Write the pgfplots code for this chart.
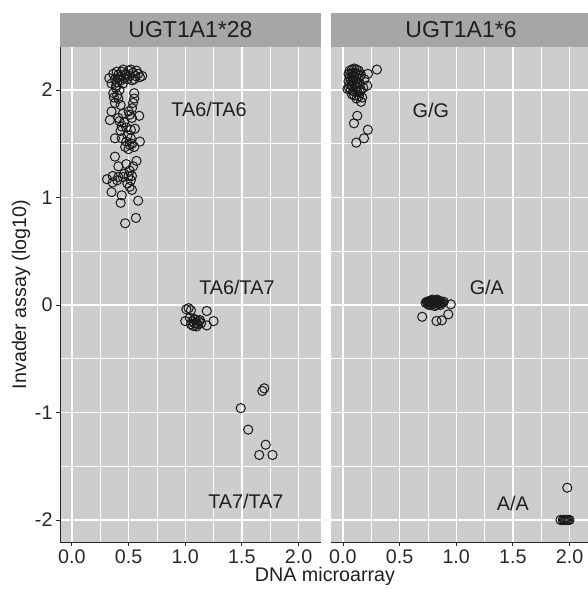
\documentclass[border=0pt]{standalone}
\usepackage{fontspec}
\setmainfont{Liberation Sans}
\usepackage{pgfplots}
\pgfplotsset{compat=1.18}
\definecolor{panelgray}{RGB}{205,205,205}
\definecolor{stripgray}{RGB}{166,166,166}
\definecolor{axiscol}{RGB}{40,40,40}
\tikzset{ann/.style={font=\fontsize{19.8}{23}\selectfont, text=black!88}}
\pgfplotsset{
  panel/.style={
    scale only axis, height=495pt,
    xmin=-0.105, ymin=-2.205, ymax=2.40,
    axis background/.style={fill=panelgray},
    axis line style={draw=none},
    grid=both,
    major grid style={white, line width=1.3pt},
    minor grid style={white, line width=0.6pt},
    xtick={0,0.5,1,1.5,2}, minor xtick={0.25,0.75,1.25,1.75,2.25},
    ytick={-2,-1,0,1,2}, minor ytick={-1.5,-0.5,0.5,1.5},
    xticklabels={0.0,0.5,1.0,1.5,2.0},
    tick align=outside, xtick pos=bottom, ytick pos=left,
    major tick length=4pt, minor tick length=0pt,
    tick style={axiscol, line width=0.8pt},
    ticklabel style={font=\fontsize{19.7}{23}\selectfont, text=axiscol},
    clip=false,
  },
  pts/.style={only marks, mark=o, mark size=4.6pt, mark options={line width=1.0pt, black!90}},
}
\begin{document}
\begin{tikzpicture}[x=1pt,y=1pt]
\path[use as bounding box] (0,0) rectangle (588,589);
% strips
\fill[stripgray] (60,542) rectangle (321,576);
\fill[stripgray] (331,542) rectangle (588,576);
\node[anchor=base, font=\fontsize{23}{27}\selectfont, text=black!88] at (190.5,551) {UGT1A1*28};
\node[anchor=base, font=\fontsize{23}{27}\selectfont, text=black!88] at (461,551) {UGT1A1*6};
% left panel
\begin{axis}[panel, width=261pt, xmax=2.198, at={(60pt,47pt)}, anchor=south west,
  yticklabels={-2,-1,0,1,2}]
\draw[axiscol, line width=0.9pt] (rel axis cs:0,1) -- (rel axis cs:0,0) -- (rel axis cs:1,0);
\addplot[pts] table {
x y
0.33 2.11
0.365 2.15
0.395 2.17
0.453 2.19
0.50 2.18
0.54 2.16
0.60 2.12
0.585 2.15
0.48 2.14
0.42 2.12
0.38 2.10
0.53 2.09
0.35 2.06
0.388 2.02
0.365 1.97
0.41 1.92
0.38 1.88
0.55 1.97
0.55 1.92
0.54 1.88
0.53 1.83
0.50 1.80
0.51 1.77
0.35 1.80
0.594 1.76
0.335 1.72
0.41 1.74
0.42 1.71
0.44 1.66
0.48 1.65
0.52 1.63
0.556 1.64
0.38 1.55
0.44 1.55
0.48 1.52
0.51 1.49
0.55 1.47
0.60 1.52
0.47 1.47
0.38 1.38
0.41 1.29
0.48 1.31
0.57 1.34
0.54 1.29
0.51 1.25
0.50 1.20
0.53 1.20
0.31 1.17
0.36 1.20
0.41 1.19
0.45 1.19
0.36 1.14
0.35 1.05
0.44 1.02
0.51 1.10
0.53 1.07
0.43 0.95
0.585 0.97
0.565 0.81
0.47 0.76
0.44 2.17
0.47 2.15
0.51 2.13
0.56 2.13
0.46 2.11
0.43 2.09
0.40 2.07
0.49 2.10
0.52 2.19
0.57 2.18
0.41 2.14
0.45 2.06
0.39 2.04
0.42 2.00
0.40 1.95
0.37 1.93
0.43 1.86
0.45 1.78
0.53 1.74
0.46 1.70
0.43 1.62
0.49 1.58
0.52 1.55
0.53 1.50
0.50 1.45
0.46 1.22
0.52 1.16
0.49 1.13
0.40 1.16
0.62 2.13
0.55 2.10
};
\addplot[pts] table {
x y
1.01 -0.04
1.05 -0.05
1.03 -0.03
1.00 -0.15
1.04 -0.12
1.06 -0.15
1.08 -0.17
1.07 -0.195
1.10 -0.17
1.09 -0.14
1.12 -0.15
1.13 -0.14
1.11 -0.18
1.14 -0.17
1.19 -0.056
1.19 -0.19
1.25 -0.15
1.08 -0.13
1.05 -0.18
1.10 -0.20
};
\addplot[pts] table {
x y
1.697 -0.775
1.68 -0.80
1.49 -0.96
1.556 -1.16
1.71 -1.30
1.653 -1.395
1.77 -1.395
};
\node[ann] at (axis cs:1.21,1.82) {TA6/TA6};
\node[ann] at (axis cs:1.456,0.16) {TA6/TA7};
\node[ann] at (axis cs:1.535,-1.83) {TA7/TA7};
\end{axis}
% right panel
\begin{axis}[panel, width=257pt, xmax=2.163, at={(331pt,47pt)}, anchor=south west,
  yticklabels={}, ytick style={draw=none}]
\draw[axiscol, line width=0.9pt] (rel axis cs:0,0) -- (rel axis cs:1,0);
\addplot[pts] table {
x y
0.30 2.19
0.22 2.15
0.215 2.04
0.16 1.89
0.127 1.76
0.098 1.69
0.22 1.63
0.186 1.55
0.118 1.51
0.06 2.18
0.08 2.19
0.10 2.20
0.12 2.19
0.14 2.18
0.07 2.15
0.09 2.16
0.11 2.16
0.13 2.15
0.16 2.14
0.06 2.12
0.08 2.12
0.10 2.13
0.12 2.12
0.14 2.11
0.05 2.08
0.07 2.09
0.09 2.08
0.11 2.09
0.13 2.07
0.15 2.06
0.06 2.05
0.08 2.04
0.10 2.05
0.12 2.03
0.04 2.01
0.07 2.00
0.09 1.99
0.11 2.00
0.13 1.98
0.08 1.96
0.10 1.95
0.14 1.94
0.12 1.92
0.17 1.93
0.19 2.10
0.18 2.02
0.05 2.15
0.15 1.98
0.16 2.00
0.053 2.02
};
\addplot[pts] table {
x y
0.73 0.02
0.74 0.03
0.75 0.01
0.76 0.03
0.77 0.02
0.78 0.04
0.78 0.00
0.79 0.02
0.80 0.03
0.80 0.01
0.81 0.04
0.82 0.02
0.82 0.00
0.83 0.03
0.84 0.02
0.84 0.04
0.85 0.01
0.86 0.03
0.87 0.02
0.88 0.02
0.76 0.00
0.79 0.05
0.81 -0.01
0.83 0.05
0.85 0.04
0.77 0.04
0.75 0.03
0.86 0.00
0.89 0.03
0.952 0.006
0.93 -0.087
0.70 -0.11
0.826 -0.149
0.873 -0.143
};
\addplot[pts] table {
x y
1.92 -2.0
1.94 -2.0
1.95 -2.0
1.96 -2.0
1.97 -2.0
1.98 -2.0
1.99 -2.0
2.00 -2.0
1.98 -1.70
};
\node[ann] at (axis cs:0.776,1.81) {G/G};
\node[ann] at (axis cs:1.27,0.16) {G/A};
\node[ann] at (axis cs:1.50,-1.85) {A/A};
\end{axis}
% axis titles
\node[anchor=base, font=\fontsize{19.7}{23}\selectfont, text=black!88] at (325,7) {DNA microarray};
\node[rotate=90, anchor=base, font=\fontsize{19.7}{23}\selectfont, text=black!88] at (26,294.5) {Invader assay (log10)};
\end{tikzpicture}
\end{document}
